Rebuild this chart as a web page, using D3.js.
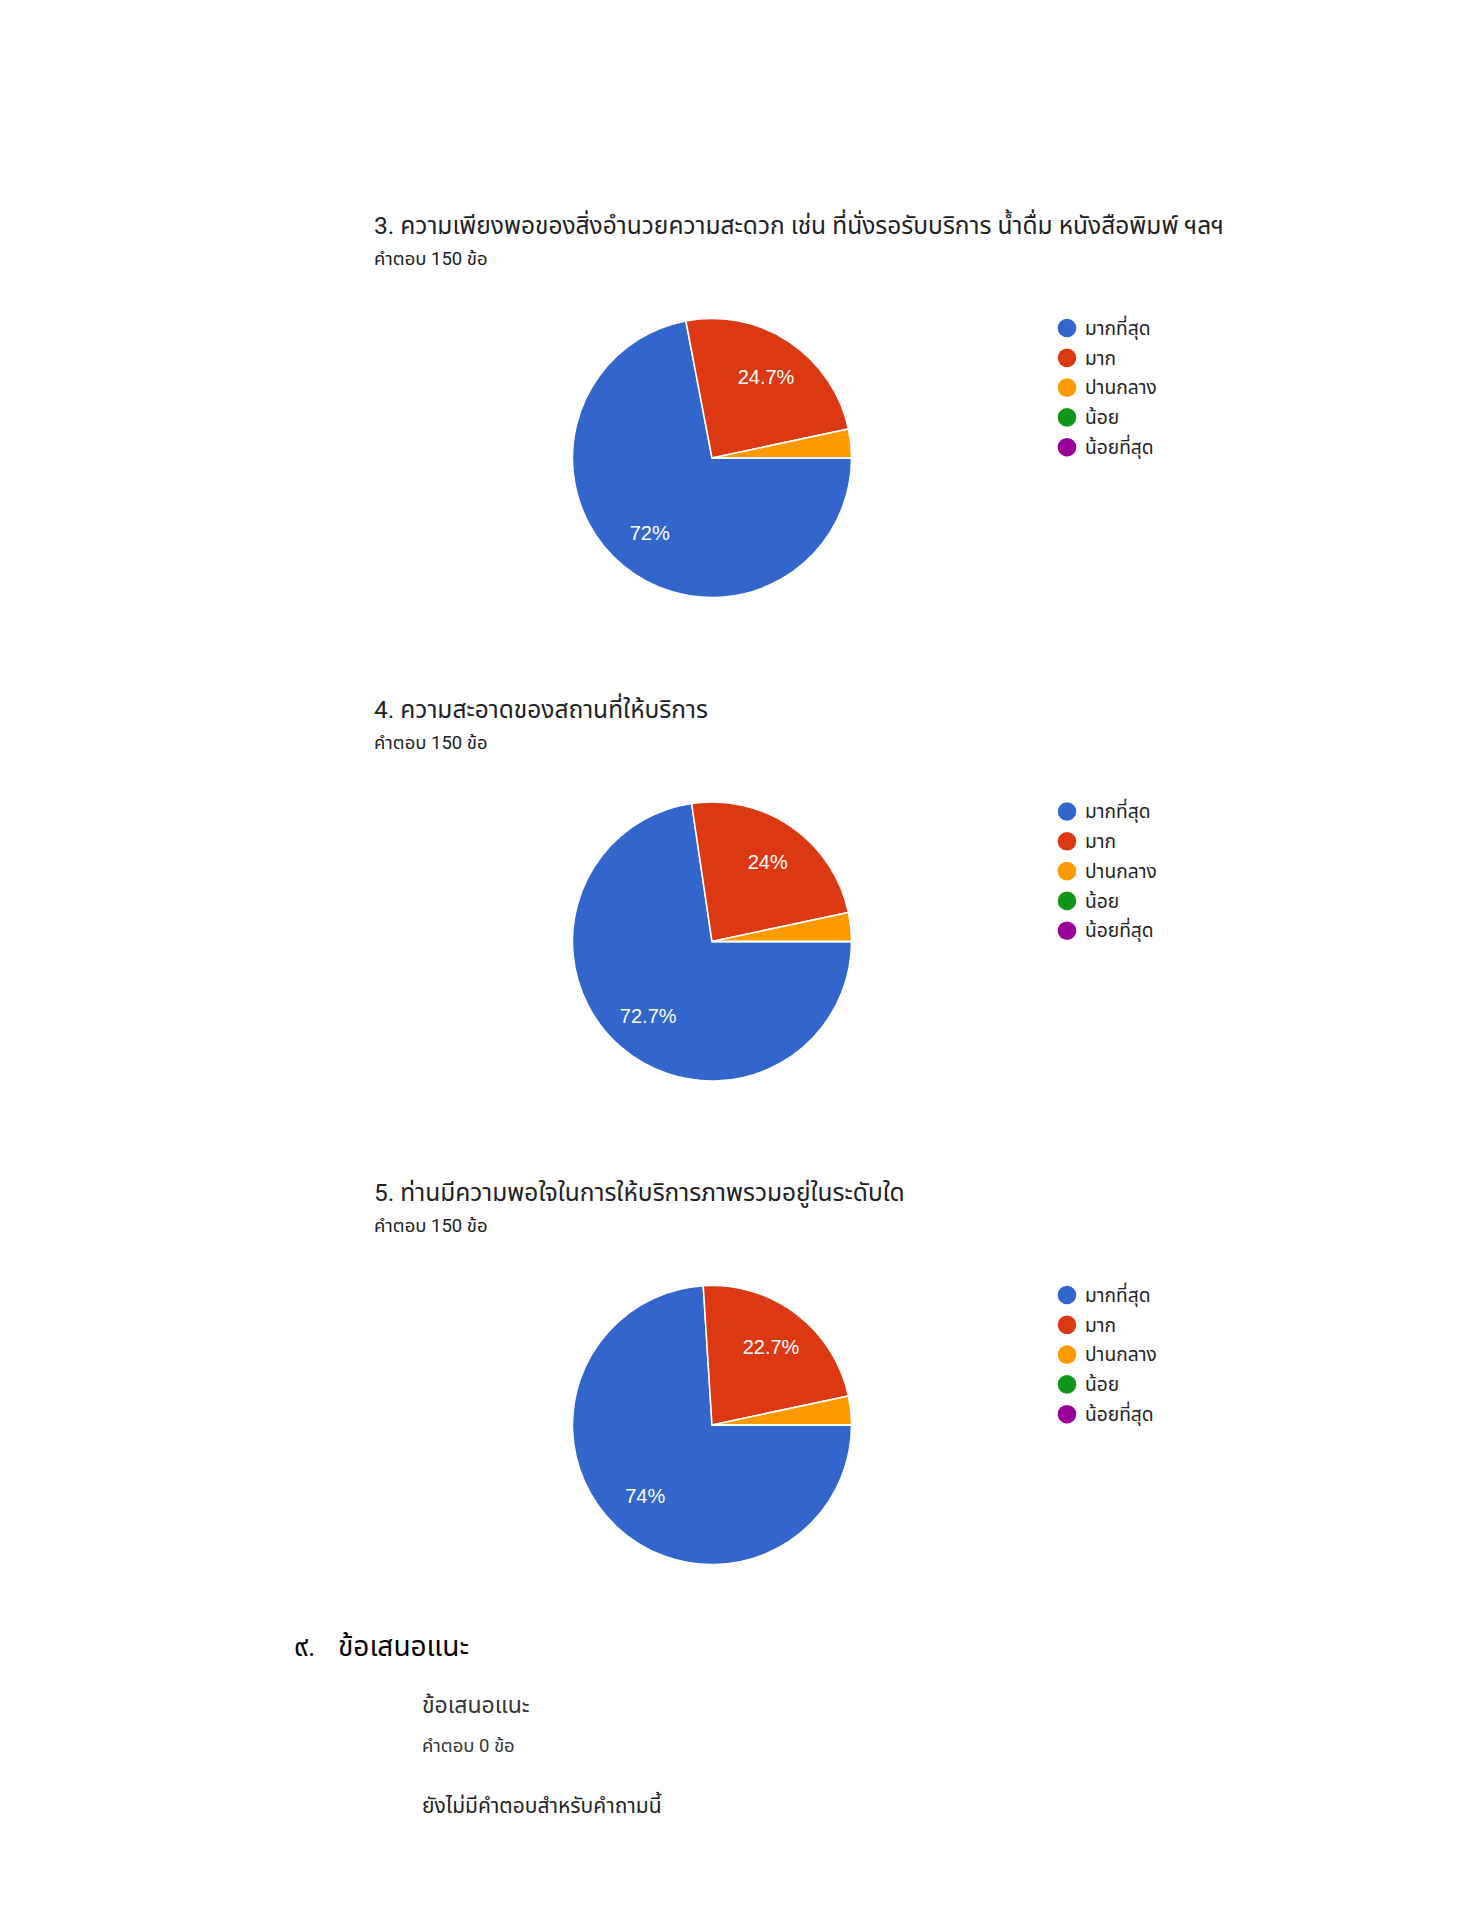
<!DOCTYPE html>
<html>
<head>
<meta charset="utf-8">
<script src="https://cdn.jsdelivr.net/npm/d3@7"></script>
<style>
  body { margin: 0; background: #fff; }
</style>
</head>
<body>
<script>
// answer categories and google-chart colours
var categories = ["มากที่สุด", "มาก", "ปานกลาง", "น้อย", "น้อยที่สุด"];
var sliceColors = ["#3366cc", "#dc3912", "#ff9900", "#109618", "#990099"];

// questions shown on the page
var questions = [
    "3. ความเพียงพอของสิ่งอำนวยความสะดวก เช่น ที่นั่งรอรับบริการ น้ำดื่ม หนังสือพิมพ์ ฯลฯ",
    "4. ความสะอาดของสถานที่ให้บริการ",
    "5. ท่านมีความพอใจในการให้บริการภาพรวมอยู่ในระดับใด"
];
var answerCounts = ["คำตอบ 150 ข้อ", "คำตอบ 150 ข้อ", "คำตอบ 150 ข้อ"];

// responses per category (150 each)
var q3Values = [108, 37, 5, 0, 0];
var q4Values = [109, 36, 5, 0, 0];
var q5Values = [111, 34, 5, 0, 0];
var allValues = [q3Values, q4Values, q5Values];

var W = 1484, H = 1920;
var FONT = "Roboto, 'Noto Sans Thai', 'Noto Sans', sans-serif";
var svg = d3.select("body").append("svg").attr("width", W).attr("height", H)
    .attr("font-family", FONT);
svg.append("rect").attr("width", W).attr("height", H).attr("fill", "#fff");

var radius = 139.5;
var blockStep = 483.5;

var pie = d3.pie().sort(null)
    .startAngle(Math.PI / 2)
    .endAngle(Math.PI / 2 + 2 * Math.PI);
var arc = d3.arc().innerRadius(0).outerRadius(radius);
var labelArc = d3.arc().innerRadius(radius * 0.7).outerRadius(radius * 0.7);

function fmtPct(v) {
    var p = Math.round(v * 1000) / 10;
    return (p % 1 === 0 ? p.toFixed(0) : p.toFixed(1)) + "%";
}

allValues.forEach(function (vals, qi) {
    var top = qi * blockStep;
    var g = svg.append("g").attr("transform", "translate(0," + top + ")");

    g.append("text")
        .attr("x", 374).attr("y", 234)
        .attr("font-size", 24.5)
        .attr("fill", "#202124")
        .text(questions[qi]);

    g.append("text")
        .attr("x", 374).attr("y", 265)
        .attr("font-size", 18.5)
        .attr("fill", "#202124")
        .text(answerCounts[qi]);

    var total = d3.sum(vals);
    var pg = g.append("g").attr("transform", "translate(712,458)");
    var slices = pie(vals);

    pg.selectAll("path")
        .data(slices)
        .enter()
        .append("path")
        .attr("d", arc)
        .attr("fill", function (d, i) { return sliceColors[i]; })
        .attr("stroke", "#fff")
        .attr("stroke-width", 1.5);

    pg.selectAll("text")
        .data(slices.filter(function (d) { return d.value / total >= 0.05; }))
        .enter()
        .append("text")
        .attr("transform", function (d) { return "translate(" + labelArc.centroid(d) + ")"; })
        .attr("text-anchor", "middle")
        .attr("dy", "0.36em")
        .attr("font-family", "Arial, 'Liberation Sans', sans-serif")
        .attr("font-size", 20)
        .attr("fill", "#fff")
        .text(function (d) { return fmtPct(d.value / total); });

    var legend = g.append("g").attr("transform", "translate(1067,328)");
    var rows = legend.selectAll("g")
        .data(categories)
        .enter()
        .append("g")
        .attr("transform", function (d, i) { return "translate(0," + i * 29.8 + ")"; });
    rows.append("circle").attr("r", 9.3).attr("fill", function (d, i) { return sliceColors[i]; });
    rows.append("text")
        .attr("x", 18).attr("dy", "0.35em")
        .attr("font-size", 19.2)
        .attr("fill", "#222")
        .text(function (d) { return d; });
});

// section 9 – suggestions
svg.append("text")
    .attr("x", 294).attr("y", 1656)
    .attr("font-size", 28)
    .attr("fill", "#000")
    .text("๙.");
svg.append("text")
    .attr("x", 338).attr("y", 1656)
    .attr("font-size", 28)
    .attr("fill", "#000")
    .text("ข้อเสนอแนะ");

svg.append("text")
    .attr("x", 422).attr("y", 1713)
    .attr("font-size", 23)
    .attr("fill", "#333")
    .text("ข้อเสนอแนะ");

svg.append("text")
    .attr("x", 422).attr("y", 1752)
    .attr("font-size", 18.5)
    .attr("fill", "#333")
    .text("คำตอบ 0 ข้อ");

svg.append("text")
    .attr("x", 422).attr("y", 1813)
    .attr("font-size", 21)
    .attr("fill", "#222")
    .text("ยังไม่มีคำตอบสำหรับคำถามนี้");
</script>
</body>
</html>
